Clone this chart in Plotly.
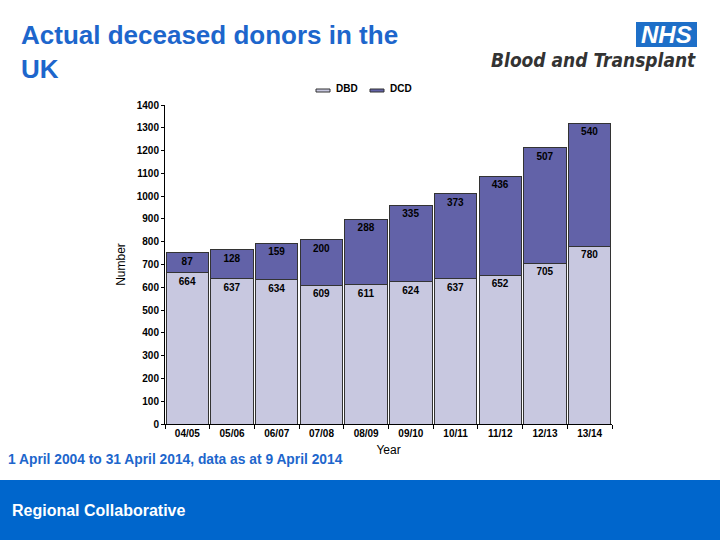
import plotly.graph_objects as go

years = ["04/05", "05/06", "06/07", "07/08", "08/09", "09/10", "10/11", "11/12", "12/13", "13/14"]
dbd = [664, 637, 634, 609, 611, 624, 637, 652, 705, 780]
dcd = [87, 128, 159, 200, 288, 335, 373, 436, 507, 540]

W, H = 720, 540
L, R, T, B = 165, 108, 105, 116
PW, PH = W - L - R, H - T - B

def px(x):
    return (x - L) / PW

def py(y):
    return (H - B - y) / PH

FONT = "Liberation Sans, Arial, sans-serif"
BLUE = "#1D66CC"
C_DBD = "#C8C8E0"
C_DCD = "#6262A8"

fig = go.Figure()
fig.add_bar(x=years, y=dbd, name="DBD", marker=dict(color=C_DBD, line=dict(color="#333333", width=1)),
            text=[f"<b>{v}</b>" for v in dbd], textposition="inside", insidetextanchor="end",
            textfont=dict(size=10, color="black", family=FONT))
fig.add_bar(x=years, y=dcd, name="DCD", marker=dict(color=C_DCD, line=dict(color="#333333", width=1)),
            text=[f"<b>{v}</b>" for v in dcd], textposition="inside", insidetextanchor="end",
            textfont=dict(size=10, color="black", family=FONT))

fig.update_layout(
    barmode="stack", bargap=0.05,
    width=W, height=H, margin=dict(l=L, r=R, t=T, b=B),
    paper_bgcolor="white", plot_bgcolor="white",
    font=dict(family=FONT, color="black"),
    uniformtext=dict(minsize=10, mode="show"),
    showlegend=False,
)
fig.update_yaxes(range=[0, 1400], dtick=100, ticks="outside", ticklen=3, tickcolor="black",
                 showline=True, linecolor="black", linewidth=1, showgrid=False, zeroline=False,
                 tickprefix="<b>", ticksuffix="</b>",
                 tickfont=dict(size=10, family=FONT), title=dict(text="Number", font=dict(size=12), standoff=8))
fig.update_xaxes(ticks="outside", tickson="boundaries", ticklen=4, tickcolor="black",
                 showline=True, linecolor="black", linewidth=1, showgrid=False,
                 tickprefix="<b>", ticksuffix="</b>",
                 tickfont=dict(size=10, family=FONT), title=dict(text="Year", font=dict(size=12), standoff=7))

shapes = [
    dict(type="rect", xref="paper", yref="paper", x0=px(0), x1=px(720), y0=py(480), y1=py(541),
         fillcolor="#0066CC", line=dict(width=0), layer="above"),
    dict(type="rect", xref="paper", yref="paper", x0=px(636), x1=px(697), y0=py(22), y1=py(47),
         fillcolor="#1E6FC8", line=dict(width=0)),
    # legend keys
    dict(type="rect", xref="paper", yref="paper", x0=px(316), x1=px(330), y0=py(89), y1=py(92),
         fillcolor=C_DBD, line=dict(color="#333333", width=1)),
    dict(type="rect", xref="paper", yref="paper", x0=px(370), x1=px(384), y0=py(89), y1=py(92),
         fillcolor=C_DCD, line=dict(color="#333333", width=1)),
]
fig.update_layout(shapes=shapes)

anns = [
    dict(text="<b>Actual deceased donors in the<br>UK</b>", x=px(19), y=py(18), xref="paper", yref="paper",
         xanchor="left", yanchor="top", align="left", showarrow=False,
         font=dict(size=26, color=BLUE, family=FONT)),
    dict(text="<b><i>NHS</i></b>", x=px(666), y=py(35), xref="paper", yref="paper",
         xanchor="center", yanchor="middle", showarrow=False,
         font=dict(size=24, color="white", family=FONT)),
    dict(text="<b><i>Blood and Transplant</i></b>", x=px(698), y=py(60), xref="paper", yref="paper",
         xanchor="right", yanchor="middle", showarrow=False,
         font=dict(size=19, color="#333333", family="DejaVu Sans Condensed, " + FONT)),
    dict(text="<b>DBD</b>", x=px(334), y=py(88), xref="paper", yref="paper",
         xanchor="left", yanchor="middle", showarrow=False, font=dict(size=10, family=FONT)),
    dict(text="<b>DCD</b>", x=px(388), y=py(88), xref="paper", yref="paper",
         xanchor="left", yanchor="middle", showarrow=False, font=dict(size=10, family=FONT)),
    dict(text="<b>1 April 2004 to 31 April 2014, data as at 9 April 2014</b>", x=px(6), y=py(459),
         xref="paper", yref="paper", xanchor="left", yanchor="middle", showarrow=False,
         font=dict(size=13.8, color=BLUE, family=FONT)),
    dict(text="<b>Regional Collaborative</b>", x=px(10), y=py(510), xref="paper", yref="paper",
         xanchor="left", yanchor="middle", showarrow=False,
         font=dict(size=16, color="white", family=FONT)),
]
fig.update_layout(annotations=anns)

fig.write_html("out.html", config={"displayModeBar": False},
               post_script="document.body.style.margin='0';document.body.style.overflow='hidden';")
